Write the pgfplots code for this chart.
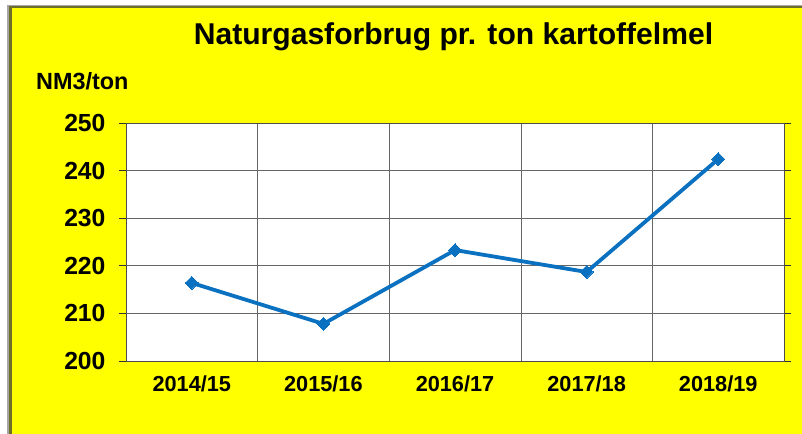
\documentclass[border=0pt]{standalone}
\usepackage{pgfplots}
\pgfplotsset{compat=1.18}
\usepackage{fontspec}
\setmainfont{Liberation Sans}
\definecolor{bgyellow}{RGB}{255,255,0}
\definecolor{linblue}{RGB}{10,112,192}
\definecolor{shadowolive}{RGB}{110,110,40}
\begin{document}
\begin{tikzpicture}[x=1bp,y=1bp]
\fill[white] (0,0) rectangle (802,434);
\fill[gray!70] (7,0) rectangle (802,429);
\fill[shadowolive] (9,0) rectangle (802,427.5);
\fill[bgyellow] (12,0) rectangle (802,426);
\node[anchor=base,font=\bfseries\fontsize{30.2}{34}\selectfont] at (453.5,389) {Naturgasforbrug pr. ton kartoffelmel};
\node[anchor=base west,font=\bfseries\fontsize{23.5}{26}\selectfont,inner sep=0pt] at (36,344) {NM3/ton};
\begin{axis}[
  at={(126bp,73bp)}, anchor=south west,
  scale only axis, width=658bp, height=238bp,
  xmin=-0.5, xmax=4.5, ymin=200, ymax=250,
  xtick={0,1,2,3,4},
  xticklabels={2014/15,2015/16,2016/17,2017/18,2018/19},
  minor xtick={-0.5,0.5,1.5,2.5,3.5,4.5},
  ytick={200,210,220,230,240,250},
  xtick style={draw=none},
  tick align=outside,
  major tick length=7bp, minor tick length=6bp,
  ymajorgrids, xminorgrids,
  grid style={gray!80!black, line width=0.6pt},
  minor grid style={gray!80!black, line width=0.6pt},
  axis line style={gray!60!black, line width=0.8pt},
  every tick/.style={gray!40!black, line width=0.8pt},
  axis background/.style={fill=white},
  /pgf/number format/assume math mode=true,
  yticklabel style={font=\bfseries\fontsize{24.8}{28}\selectfont, xshift=-10bp},
  xticklabel style={font=\bfseries\fontsize{21.8}{26}\selectfont, yshift=-4bp},
  clip=false,
]
\addplot[linblue, line width=3.8pt, mark=square*, mark size=4.6bp,
  mark options={rotate=45, line width=0pt, fill=linblue}]
  coordinates {(0,216.4) (1,207.8) (2,223.3) (3,218.7) (4,242.4)};
\end{axis}
\end{tikzpicture}
\end{document}
